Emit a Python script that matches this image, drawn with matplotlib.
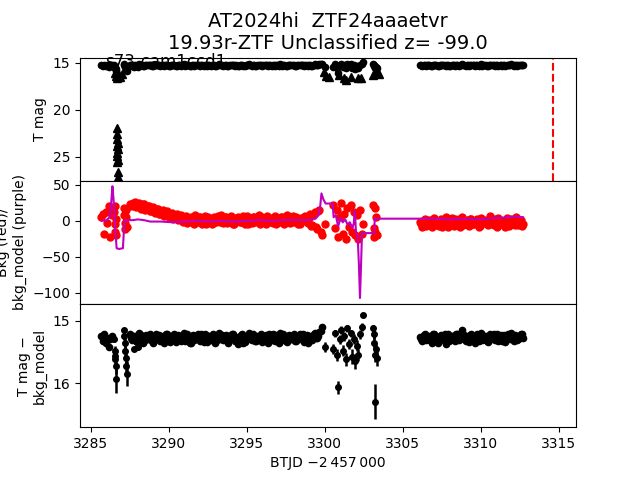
import matplotlib
matplotlib.use("Agg")
import matplotlib.pyplot as plt

# --- detections, early blob (before the first ramp)
t_a = [3285.65, 3285.75, 3285.85, 3285.95, 3286.05, 3286.15, 3286.25, 3286.35]
mag_a = [15.24, 15.33, 15.22, 15.36, 15.28, 15.42, 15.30, 15.25]
bkg_a = [5, 10, -18, 12, -3, 20, -22, 8]

# --- detections, main stretch of orbit 1
t_b = [3287.50, 3287.65, 3287.80, 3287.95, 3288.10, 3288.25, 3288.40, 3288.55, 3288.70, 3288.85,
       3289.00, 3289.15, 3289.30, 3289.45, 3289.60, 3289.75, 3289.90, 3290.05, 3290.20, 3290.35,
       3290.50, 3290.65, 3290.80, 3290.95, 3291.10, 3291.25, 3291.40, 3291.55, 3291.70, 3291.85,
       3292.00, 3292.15, 3292.30, 3292.45, 3292.60, 3292.75, 3292.90, 3293.05, 3293.20, 3293.35,
       3293.50, 3293.65, 3293.80, 3293.95, 3294.10, 3294.25, 3294.40, 3294.55, 3294.70, 3294.85,
       3295.00, 3295.15, 3295.30, 3295.45, 3295.60, 3295.75, 3295.90, 3296.05, 3296.20, 3296.35,
       3296.50, 3296.65, 3296.80, 3296.95, 3297.10, 3297.25, 3297.40, 3297.55, 3297.70, 3297.85,
       3298.00, 3298.15, 3298.30, 3298.45, 3298.60, 3298.75, 3298.90, 3299.05, 3299.20, 3299.35,
       3299.50, 3299.65, 3299.80]
mag_b = [15.22, 15.31, 15.25, 15.34, 15.20, 15.29, 15.33, 15.23, 15.30, 15.26,
         15.35, 15.21, 15.28, 15.32, 15.24, 15.30, 15.22, 15.34, 15.27, 15.21,
         15.31, 15.25, 15.33, 15.20, 15.29, 15.26, 15.35, 15.23, 15.30, 15.22,
         15.32, 15.27, 15.21, 15.34, 15.25, 15.30, 15.24, 15.33, 15.20, 15.28,
         15.31, 15.23, 15.36, 15.26, 15.21, 15.32, 15.37, 15.29, 15.22, 15.34,
         15.27, 15.20, 15.31, 15.24, 15.33, 15.26, 15.21, 15.30, 15.23, 15.35,
         15.28, 15.22, 15.32, 15.25, 15.20, 15.31, 15.27, 15.34, 15.23, 15.29,
         15.21, 15.33, 15.26, 15.30, 15.22, 15.28, 15.35, 15.24, 15.31, 15.20,
         15.27, 15.18, 15.10]
bkg_b = [24, 22, 26, 20, 25, 18, 23, 16, 21, 14,
         19, 12, 17, 10, 15, 8, 13, 6, 11, 4,
         9, 2, 8, 0, 7, -2, 6, -3, 8, -1,
         5, -4, 7, 0, 4, -5, 6, -2, 3, 8,
         -3, 5, -1, 7, -4, 2, 6, -2, 4, -5,
         7, 1, -3, 5, 0, 8, -2, 4, -4, 6,
         1, -3, 7, 2, -1, 5, -4, 8, 0, 3,
         -2, 6, -5, 4, 1, 7, -3, 9, -6, 12,
         -12, 15, -20]

# interleaved cadence of the same stretch
t_b2 = [3287.58, 3287.73, 3287.88, 3288.03, 3288.18, 3288.33, 3288.48, 3288.63, 3288.78, 3288.93,
        3289.08, 3289.23, 3289.38, 3289.53, 3289.68, 3289.83, 3289.98, 3290.13, 3290.28, 3290.43,
        3290.58, 3290.73, 3290.88, 3291.03, 3291.18, 3291.33, 3291.48, 3291.63, 3291.78, 3291.93,
        3292.08, 3292.23, 3292.38, 3292.53, 3292.68, 3292.83, 3292.98, 3293.13, 3293.28, 3293.43,
        3293.58, 3293.73, 3293.88, 3294.03, 3294.18, 3294.33, 3294.48, 3294.63, 3294.78, 3294.93,
        3295.08, 3295.23, 3295.38, 3295.53, 3295.68, 3295.83, 3295.98, 3296.13, 3296.28, 3296.43,
        3296.58, 3296.73, 3296.88, 3297.03, 3297.18, 3297.33, 3297.48, 3297.63, 3297.78, 3297.93,
        3298.08, 3298.23, 3298.38, 3298.53, 3298.68, 3298.83, 3298.98, 3299.13, 3299.28, 3299.43,
        3299.58, 3299.73]
mag_b2 = [15.28, 15.24, 15.32, 15.27, 15.23, 15.35, 15.26, 15.30, 15.21, 15.33,
          15.25, 15.29, 15.23, 15.27, 15.36, 15.22, 15.31, 15.25, 15.29, 15.34,
          15.23, 15.28, 15.26, 15.32, 15.22, 15.35, 15.27, 15.31, 15.24, 15.29,
          15.21, 15.34, 15.28, 15.24, 15.31, 15.22, 15.36, 15.26, 15.30, 15.23,
          15.27, 15.33, 15.25, 15.21, 15.30, 15.26, 15.32, 15.23, 15.35, 15.27,
          15.24, 15.29, 15.22, 15.33, 15.25, 15.30, 15.34, 15.24, 15.28, 15.21,
          15.31, 15.26, 15.23, 15.35, 15.29, 15.22, 15.32, 15.25, 15.30, 15.24,
          15.33, 15.27, 15.21, 15.29, 15.34, 15.23, 15.26, 15.31, 15.22, 15.28,
          15.24, 15.16]
bkg_b2 = [21, 25, 19, 23, 17, 24, 15, 20, 13, 18,
          11, 16, 9, 14, 7, 12, 5, 10, 3, 8,
          1, 6, -1, 5, -3, 4, 1, -4, 3, 6,
          -2, 2, -4, 5, 1, -3, 4, 7, -1, 2,
          6, -3, 3, 0, -5, 4, 1, -2, 7, 2,
          -4, 3, 6, -1, 2, -5, 5, 0, 7, -2,
          4, -1, -5, 3, 6, -2, 1, 5, -3, 7,
          0, 3, -4, 2, 6, -1, 4, -7, 10, -9,
          14, -16]

# --- detections, orbit 2
t_c = [3306.10, 3306.25, 3306.40, 3306.55, 3306.70, 3306.85, 3307.00, 3307.15, 3307.30, 3307.45,
       3307.60, 3307.75, 3307.90, 3308.05, 3308.20, 3308.35, 3308.50, 3308.65, 3308.80, 3308.95,
       3309.10, 3309.25, 3309.40, 3309.55, 3309.70, 3309.85, 3310.00, 3310.15, 3310.30, 3310.45,
       3310.60, 3310.75, 3310.90, 3311.05, 3311.20, 3311.35, 3311.50, 3311.65, 3311.80, 3311.95,
       3312.10, 3312.25, 3312.40, 3312.55, 3312.70]
mag_c = [15.26, 15.33, 15.21, 15.30, 15.24, 15.35, 15.22, 15.29, 15.32, 15.23,
         15.27, 15.37, 15.21, 15.31, 15.25, 15.33, 15.22, 15.28, 15.15, 15.30,
         15.24, 15.34, 15.21, 15.29, 15.26, 15.32, 15.20, 15.30, 15.25, 15.34,
         15.22, 15.28, 15.31, 15.21, 15.27, 15.33, 15.23, 15.30, 15.25, 15.20,
         15.32, 15.24, 15.29, 15.22, 15.28]
bkg_c = [-2, -8, 3, -5, 1, -9, 4, -3, -7, 2,
         -4, 6, -8, 0, -6, 3, -2, -9, 5, -4,
         1, -7, 2, -5, -1, -8, 4, -3, 0, -6,
         7, -4, 2, -8, 1, -5, -2, 4, -7, 3,
         -3, 6, -6, 1, -4]

t_c2 = [3306.18, 3306.33, 3306.48, 3306.63, 3306.78, 3306.93, 3307.08, 3307.23, 3307.38, 3307.53,
        3307.68, 3307.83, 3307.98, 3308.13, 3308.28, 3308.43, 3308.58, 3308.73, 3308.88, 3309.03,
        3309.18, 3309.33, 3309.48, 3309.63, 3309.78, 3309.93, 3310.08, 3310.23, 3310.38, 3310.53,
        3310.68, 3310.83, 3310.98, 3311.13, 3311.28, 3311.43, 3311.58, 3311.73, 3311.88, 3312.03,
        3312.18, 3312.33, 3312.48, 3312.63]
mag_c2 = [15.29, 15.23, 15.31, 15.26, 15.33, 15.22, 15.28, 15.35, 15.25, 15.30,
          15.22, 15.29, 15.33, 15.24, 15.28, 15.21, 15.31, 15.26, 15.22, 15.33,
          15.27, 15.23, 15.30, 15.35, 15.22, 15.28, 15.31, 15.24, 15.33, 15.26,
          15.29, 15.21, 15.25, 15.32, 15.23, 15.28, 15.34, 15.22, 15.30, 15.26,
          15.23, 15.31, 15.27, 15.21]
bkg_c2 = [-5, 1, -7, -1, -4, 2, -6, 0, -3, -8,
          1, -5, -2, 4, -7, -1, 2, -4, -6, 0,
          -3, 3, -5, -2, 2, -7, -1, 1, -5, 3,
          -2, -6, 0, 4, -4, -1, -8, 2, -3, 0,
          -6, 2, -1, -7]

# --- noisy detections with visible error bars
t_s = [3286.50, 3286.52, 3286.54, 3286.56, 3286.58, 3286.60,
       3287.12, 3287.15, 3287.18, 3287.21, 3287.24, 3287.27, 3287.30,
       3287.75, 3288.05, 3300.02,
       3300.55, 3300.65, 3300.75, 3300.85, 3300.95, 3301.05, 3301.15, 3301.25, 3301.35, 3301.45,
       3301.55, 3301.65, 3301.75, 3301.85, 3301.95, 3302.05, 3302.15, 3302.25, 3302.35, 3302.42,
       3303.10, 3303.13, 3303.16, 3303.19, 3303.22, 3303.26, 3303.35]
mag_s = [15.30, 15.48, 15.56, 15.62, 15.72, 15.94,
         15.15, 15.25, 15.35, 15.48, 15.60, 15.72, 15.85,
         15.45, 15.42, 15.42,
         15.45, 15.20, 15.55, 16.07, 15.30, 15.15, 15.48, 15.25, 15.62, 15.12,
         15.38, 15.20, 15.58, 15.30, 15.65, 15.40, 15.55, 15.22, 15.10, 14.90,
         15.12, 15.22, 15.35, 15.55, 16.30, 15.45, 15.60]
err_s = [0.04, 0.08, 0.10, 0.12, 0.14, 0.22,
         0.04, 0.06, 0.08, 0.10, 0.12, 0.16, 0.20,
         0.03, 0.03, 0.08,
         0.08, 0.06, 0.10, 0.10, 0.07, 0.06, 0.09, 0.07, 0.10, 0.06,
         0.08, 0.06, 0.12, 0.08, 0.12, 0.09, 0.10, 0.08, 0.06, 0.03,
         0.06, 0.08, 0.10, 0.12, 0.28, 0.10, 0.12]
bkg_s = [12, -15, 20, -5, 3, -20,
         18, 8, -3, -12, 15, 5, -8,
         20, 22, -5,
         22, -10, 15, -22, 5, 25, -18, 10, -25, 18,
         -8, 22, -15, 12, -20, 8, -25, 15, -18, -5,
         22, -10, -22, 18, -15, 5, -20]

# --- upper limits (triangles, top panel)
lim_t = [3286.55, 3286.62, 3286.70, 3286.78, 3286.85, 3287.00,
         3286.66, 3286.68, 3286.70, 3286.72, 3286.68, 3286.74, 3286.70, 3286.66, 3286.72, 3286.70,
         3286.74, 3286.72,
         3299.95, 3300.05, 3300.25, 3300.90, 3301.20, 3301.35, 3301.70, 3302.10, 3302.30,
         3303.10, 3303.30, 3303.50]
lim_mag = [16.1, 16.4, 16.6, 16.3, 16.5, 16.2,
           21.9, 22.6, 23.1, 23.5, 23.9, 24.2, 24.6, 24.9, 25.3, 25.6,
           26.6, 27.1,
           16.0, 16.4, 16.5, 16.3, 16.6, 16.8, 16.5, 16.6, 16.6,
           16.3, 15.9, 16.2]

# --- background model (purple line)
model_t = [3285.70, 3286.00, 3286.20, 3286.30, 3286.38, 3286.45, 3286.55, 3286.65, 3286.80, 3287.05,
           3287.15, 3287.40, 3287.70, 3288.00, 3288.40, 3288.80, 3289.50, 3290.20, 3291.00, 3291.80,
           3292.60, 3293.40, 3294.20, 3295.00, 3295.80, 3296.60, 3297.40, 3298.20, 3299.00, 3299.40,
           3299.60, 3299.70, 3299.78, 3299.90, 3300.05, 3300.50, 3300.56, 3300.70, 3300.85, 3301.00,
           3301.15, 3301.30, 3301.45, 3301.60, 3301.75, 3301.85, 3301.92, 3302.00, 3302.10, 3302.18,
           3302.25, 3302.32, 3302.38, 3303.15, 3303.20, 3306.10, 3307.00, 3308.00, 3309.00, 3310.00,
           3311.00, 3311.80, 3312.30, 3312.70]
model_bkg = [0, 1, 5, 25, 48, 30, -10, -38, -39, -38,
             0, 1, 1, 2, 1, -1, -1, -2, -1, 0,
             -1, 0, -1, 0, 1, 0, 1, 1, 1, 3,
             8, 20, 38, 30, 24, 24, 5, 8, -8, 4,
             -2, 2, -5, -2, -10, -4, 14, -18, -20, -60,
             -107, -60, -17, -17, 3, 3, 3, 2, 3, 2,
             4, 5, 6, 5]

peak_t = 3314.65
title = "AT2024hi  ZTF24aaaetvr\n19.93r-ZTF Unclassified z= -99.0"
sector_label = "s73-cam1ccd1"

band_mag = [(t_a, mag_a), (t_b, mag_b), (t_b2, mag_b2), (t_c, mag_c), (t_c2, mag_c2)]
band_bkg = [(t_a, bkg_a), (t_b, bkg_b), (t_b2, bkg_b2), (t_c, bkg_c), (t_c2, bkg_c2)]

fig, ax = plt.subplots(3, 1, sharex=True, figsize=(6.4, 4.8))
fig.subplots_adjust(hspace=0)

# top: T mag
for t, m in band_mag + [(t_s, mag_s)]:
    ax[0].plot(t, m, 'ko', ms=4.5)
ax[0].plot(lim_t, lim_mag, 'k^', ms=6)
ax[0].axvline(peak_t, color='r', ls='--')
ax[0].text(3285.9, 15.5, sector_label, fontsize=12)
ax[0].set_ylim(27.55, 14.47)
ax[0].set_yticks([15, 20, 25])
ax[0].set_ylabel("T mag")
ax[0].set_title(title, fontsize=14)

# middle: background and model
for t, b in band_bkg + [(t_s, bkg_s)]:
    ax[1].plot(t, b, 'ro', ms=5)
ax[1].plot(model_t, model_bkg, color='m', lw=1.5)
ax[1].set_ylim(-115.3, 55.5)
ax[1].set_yticks([50, 0, -50, -100])
ax[1].set_ylabel("Bkg (red)/\nbkg_model (purple)")

# bottom: background-subtracted mag
for t, m in band_mag:
    ax[2].plot(t, m, 'ko', ms=4.5)
ax[2].errorbar(t_s, mag_s, yerr=err_s, fmt='ko', ms=4, elinewidth=1.8)
ax[2].set_ylim(16.71, 14.73)
ax[2].set_yticks([15, 16])
ax[2].set_ylabel("T mag \u2212\nbkg_model")
ax[2].set_xlabel("BTJD \u22122\u2009457\u2009000")
ax[2].set_xlim(3284.3, 3316.1)

fig.savefig("out.png", dpi=100)
